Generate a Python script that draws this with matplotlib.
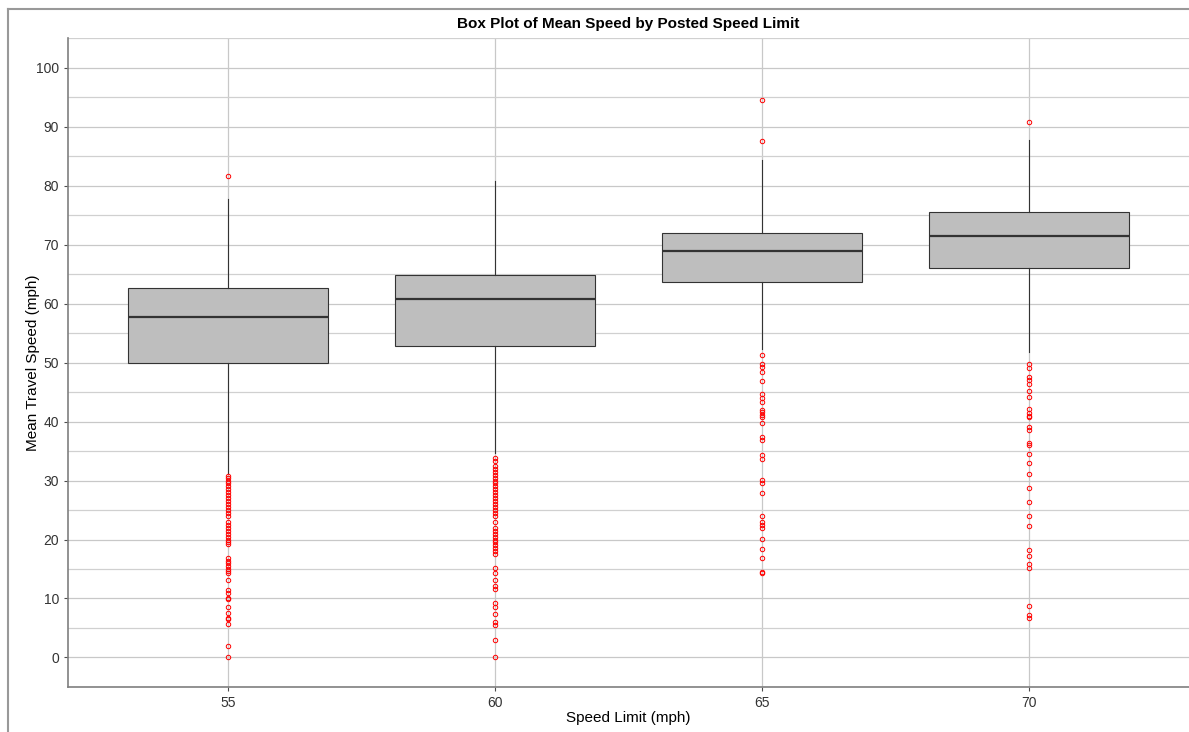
import matplotlib.pyplot as plt
from matplotlib.lines import Line2D

plt.rcParams['font.family'] = ['Liberation Sans', 'DejaVu Sans']

# values
speed_limits = ["55", "60", "65", "70"]
q1 = [50.0, 52.8, 63.6, 66.0]
medians = [57.7, 60.7, 68.9, 71.5]
q3 = [62.6, 64.8, 71.9, 75.6]
whisker_lo = [31.3, 34.6, 52.3, 51.7]
whisker_hi = [77.7, 80.7, 84.3, 87.8]

outliers_55 = [81.6, 30.8, 30.5, 30.0, 29.5, 29.0, 28.5, 28.0, 27.5, 27.0, 26.5,
               26.0, 25.5, 25.0, 24.5, 24.0, 23.0, 22.5, 22.0, 21.5, 21.0, 20.5,
               20.0, 19.5, 19.2, 16.8, 16.3, 16.0, 15.5, 15.0, 14.6, 14.4, 13.1,
               11.4, 11.0, 10.0, 9.9, 8.5, 7.6, 6.7, 6.5, 5.6, 1.9, 0.0]
outliers_60 = [33.9, 33.3, 32.5, 32.0, 31.5, 31.0, 30.5, 30.0, 29.5, 29.0, 28.5,
               28.0, 27.5, 27.0, 26.5, 26.0, 25.5, 25.0, 24.5, 24.0, 23.0, 22.0,
               21.5, 21.0, 20.5, 20.0, 19.5, 19.0, 18.5, 18.0, 17.5, 15.2, 14.3,
               13.2, 12.2, 11.6, 9.2, 8.5, 7.3, 6.0, 5.5, 2.9, 0.0]
outliers_65 = [94.5, 87.5, 51.3, 49.7, 49.2, 48.4, 46.9, 44.6, 44.0, 43.3, 42.0,
               41.6, 41.1, 40.8, 39.8, 37.4, 36.9, 34.3, 33.6, 30.1, 29.6, 27.9,
               24.0, 23.0, 22.5, 22.0, 20.1, 18.4, 16.8, 14.5, 14.3]
outliers_70 = [90.7, 49.7, 49.0, 47.5, 47.0, 46.4, 45.2, 44.2, 42.1, 41.5, 41.0,
               40.7, 39.1, 38.6, 36.3, 36.0, 34.5, 32.9, 31.1, 28.7, 26.4, 23.9,
               22.3, 18.3, 17.2, 15.8, 15.2, 8.7, 7.2, 6.7]
outliers = [outliers_55, outliers_60, outliers_65, outliers_70]

stats = []
for i in range(len(speed_limits)):
    stats.append({"med": medians[i], "q1": q1[i], "q3": q3[i],
                  "whislo": whisker_lo[i], "whishi": whisker_hi[i],
                  "fliers": outliers[i], "label": speed_limits[i]})

fig = plt.figure(figsize=(11.89, 7.32), dpi=100)
ax = fig.add_axes([0.0572, 0.0615, 0.9428, 0.8865])

positions = list(range(len(speed_limits)))
ax.bxp(stats, positions=positions, widths=0.75, patch_artist=True,
       showcaps=False,
       boxprops=dict(facecolor="#bebebe", edgecolor="#333333", linewidth=0.8),
       medianprops=dict(color="#333333", linewidth=1.6),
       whiskerprops=dict(color="#333333", linewidth=0.8),
       flierprops=dict(marker="o", markersize=3.2, markerfacecolor="none",
                       markeredgecolor="red", markeredgewidth=0.7,
                       linestyle="none"),
       zorder=3)

ax.set_xlim(-0.6, 3.6)
ax.set_ylim(-5, 105)
ax.set_yticks(range(0, 101, 10))
ax.set_yticks(range(-5, 106, 10), minor=True)
ax.set_xticks(positions)
ax.set_xticklabels(speed_limits)
ax.grid(True, which="major", color="#c8c8c8", linewidth=0.9, zorder=0)
ax.grid(True, which="minor", axis="y", color="#d0d0d0", linewidth=0.9, zorder=0)
ax.set_axisbelow(True)

for s in ["top", "right"]:
    ax.spines[s].set_visible(False)
for s in ["left", "bottom"]:
    ax.spines[s].set_color("#7f7f7f")
    ax.spines[s].set_linewidth(1.2)
ax.tick_params(axis="both", which="major", labelsize=10, colors="#4d4d4d",
               labelcolor="#333333", length=3)
ax.tick_params(axis="both", which="minor", length=0)

ax.set_title("Box Plot of Mean Speed by Posted Speed Limit", fontsize=11,
             fontweight="bold", pad=7)
ax.set_xlabel("Speed Limit (mph)", fontsize=11, labelpad=1)
ax.set_ylabel("Mean Travel Speed (mph)", fontsize=11, labelpad=-3)

# screenshot frame
fig.add_artist(Line2D([8 / 1189, 8 / 1189], [0, 1 - 9 / 732],
                      color="#999999", linewidth=1.5))
fig.add_artist(Line2D([8 / 1189, 1], [1 - 9 / 732, 1 - 9 / 732],
                      color="#999999", linewidth=1.5))

fig.savefig("out.png", dpi=100)
